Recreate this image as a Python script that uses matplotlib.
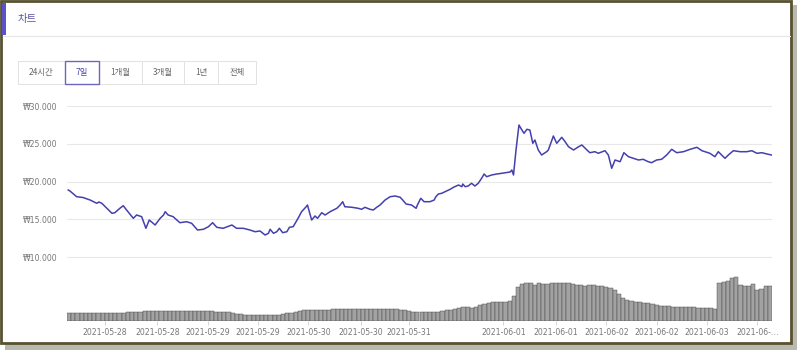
import matplotlib.pyplot as plt
from matplotlib.patches import Rectangle

# price line (hours since start, won)
hours = [0.3, 0.7, 2.3, 3.8, 5.5, 7.1, 7.6, 8.3, 9.5, 10.7, 11.4, 12.6, 13.4, 14.2, 15.8, 16.6,
         17.8, 18.8, 19.6, 21.0, 22.2, 23.0, 23.4, 24.1, 25.3, 26.9, 28.5, 29.7, 31.1, 32.5, 33.7,
         34.7, 35.7, 37.2, 39.3, 40.4, 42.0, 43.6, 44.8, 46.0, 47.2, 48.0, 48.4, 49.2, 50.0, 50.6,
         51.4, 52.4, 53.0, 53.9, 55.1, 55.9, 57.0, 57.3, 58.3, 59.1, 59.7, 60.7, 61.5, 62.7, 64.3,
         65.1, 65.7, 66.2, 67.9, 69.4, 70.2, 71.0, 72.2, 73.0, 73.8, 74.6, 75.8, 77.0, 78.2, 79.4,
         80.0, 80.8, 82.1, 83.2, 83.5, 84.3, 85.1, 86.5, 87.5, 87.9, 88.5, 89.3, 90.1, 91.3, 92.1,
         93.3, 94.1, 94.3, 94.9, 95.6, 96.4, 97.2, 98.0, 98.8, 99.4, 100.0, 101.2, 102.4, 103.6,
         105.6, 106.0, 106.4, 107.0, 107.7, 108.4, 108.9, 109.6, 110.3, 111.0, 111.5, 112.3, 113.1,
         114.3, 114.7, 115.9, 116.7, 117.9, 118.7, 119.5, 120.7, 121.8, 122.7, 123.9, 124.6, 125.8,
         126.6, 128.2, 129.0, 129.8, 130.6, 131.8, 132.7, 133.8, 135.0, 136.2, 137.3, 138.5, 139.3,
         140.5, 141.7, 142.9, 144.1, 145.3, 146.9, 148.5, 150.1, 151.3, 153.2, 154.4, 155.2, 156.8,
         157.6, 158.8, 160.4, 162.0, 163.2, 164.4, 165.6, 166.8, 167.9]
prices = [18896, 18764, 18010, 17905, 17574, 17138, 17310, 17138, 16477, 15816, 15895, 16477,
          16821, 16252, 15155, 15591, 15366, 13833, 14930, 14269, 15155, 15591, 16027, 15591,
          15366, 14573, 14705, 14494, 13608, 13701, 14044, 14573, 13965, 13833, 14269, 13833,
          13833, 13608, 13383, 13476, 12947, 13172, 13701, 13172, 13383, 13833, 13251, 13383,
          13965, 14044, 15195, 16027, 16688, 16913, 14930, 15459, 15155, 15895, 15591, 16027,
          16477, 16913, 17349, 16688, 16609, 16477, 16345, 16609, 16345, 16252, 16609, 16913,
          17574, 18010, 18103, 17931, 17574, 17045, 16913, 16477, 16913, 17799, 17349, 17349,
          17574, 18010, 18367, 18460, 18671, 18989, 19253, 19557, 19332, 19689, 19332, 19425,
          19782, 19425, 19782, 20443, 21011, 20654, 20879, 21011, 21104, 21276, 21540, 20879,
          24184, 27489, 26828, 26392, 26921, 26828, 25070, 25506, 24184, 23523, 23959, 24184,
          26035, 25070, 25863, 25281, 24620, 24184, 24581, 24845, 24184, 23827, 23959, 23748,
          24092, 23523, 21765, 22862, 22637, 23827, 23298, 23087, 22862, 22955, 22637, 22505,
          22862, 22955, 23523, 24277, 23827, 23959, 24277, 24541, 24092, 23748, 23298, 23959,
          23087, 23523, 24092, 23959, 23959, 24092, 23748, 23827, 23655, 23523]

# hourly volume (relative units)
volume = [8.5, 8.3, 8.5, 8.2, 8.4, 8.0, 8.3, 8.1,
          8.2, 7.9, 8.1, 8.0, 8.3, 8.2, 8.6,
          8.8, 9.2, 9.5, 9.8, 10.2, 10.4, 10.3, 10.1, 10.0,
          9.8, 9.7, 9.9, 10.0, 9.6, 9.8, 9.7, 10.1, 10.3, 10.0, 9.8, 9.5, 9.3, 9.0, 8.6,
          8.0, 7.2, 6.8, 6.5, 6.3, 6.2, 6.0,
          5.8, 5.9, 6.0, 6.2, 6.5, 7.0, 7.6, 8.2,
          9.0, 10.0, 10.6, 10.8, 11.0, 10.9, 11.0, 11.2, 11.5,
          11.8, 12.0, 12.2, 12.4, 12.5, 12.4, 12.3, 12.5, 12.2, 12.0, 11.8, 11.6, 11.9, 12.2, 12.4, 12.0, 11.5,
          11.0, 10.2, 9.5, 9.2, 9.0, 9.1, 9.3, 9.0, 9.4,
          10.0, 10.8, 11.5, 12.3, 13.0, 13.6, 13.8, 13.5, 13.9,
          16.0, 17.5, 18.5, 19.0, 19.2, 19.5, 19.3,
          20.0, 25.0,
          34.0, 37.5, 38.3, 38.0, 36.5, 37.8, 36.8, 37.2, 38.0, 38.4, 37.9, 38.5, 37.8, 37.0,
          36.2, 35.8, 35.5, 35.9, 35.6, 35.0, 34.6,
          34.0, 32.8, 31.5, 27.0, 23.0,
          21.0, 19.8, 19.5, 19.2, 18.5, 17.8, 16.8,
          16.0, 15.5, 15.0, 14.6, 14.3, 14.5, 14.2, 14.0, 13.8, 14.0, 13.5, 13.2, 13.0, 12.6,
          12.3, 38.5, 39.0, 40.5, 43.5, 44.0, 36.0, 35.5, 35.0, 37.5, 31.5, 31.8, 35.0, 35.2]

tick_hours = [9, 21.5, 33.5, 45.5, 57.5, 70, 81.5, 104, 116.5, 128.5, 140.5, 152.5, 164.5]
tick_labels = ['2021-05-28', '2021-05-28', '2021-05-29', '2021-05-29', '2021-05-30',
               '2021-05-30', '2021-05-31', '2021-06-01', '2021-06-01', '2021-06-02',
               '2021-06-02', '2021-06-03', '2021-06-…']
y_ticks = [10000, 15000, 20000, 25000, 30000]
y_labels = ['₩10.000', '₩15.000', '₩20.000', '₩25.000', '₩30.000']
buttons = ['24시간', '7일', '1개월', '3개월', '1년', '전체']
button_edges = [18, 65, 99, 142, 184, 218, 256]

kr = ['Noto Sans CJK KR', 'DejaVu Sans']
purple = '#4440ad'

fig = plt.figure(figsize=(8, 3.53), dpi=100)
fig.patch.set_facecolor('white')

# background / card drawn in pixel coordinates
bg = fig.add_axes([0, 0, 1, 1], zorder=0)
bg.set_xlim(0, 800)
bg.set_ylim(353, 0)
bg.axis('off')
bg.add_patch(Rectangle((5, 5), 792, 345, facecolor='#b9b9b0', edgecolor='none'))
bg.add_patch(Rectangle((1, 1), 790, 342, facecolor='white', edgecolor='#57522f', linewidth=2))
bg.add_patch(Rectangle((2, 3), 3.5, 32, facecolor='#5b52c8', edgecolor='none'))
bg.plot([3, 790], [36, 36], color='#e6e6e6', linewidth=0.8)
bg.text(18, 19, '차트', family=kr, fontsize=7.5, color='#5854a8', va='center', ha='left')

for i, name in enumerate(buttons):
    x0, x1 = button_edges[i], button_edges[i + 1]
    sel = name == '7일'
    bg.add_patch(Rectangle((x0, 61), x1 - x0, 23, facecolor='white',
                           edgecolor='#6b66c0' if sel else '#e2e2e2',
                           linewidth=1.0 if sel else 0.7, zorder=3 if sel else 2))
    bg.text((x0 + x1) / 2, 72.5, name, family=kr, fontsize=6,
            color='#4a46a8' if sel else '#666666', ha='center', va='center', zorder=4)

rect = [67 / 800, 32 / 353, 705 / 800, 226 / 353]

# volume bars
ax_vol = fig.add_axes(rect, zorder=1)
ax_vol.patch.set_alpha(0)
ax_vol.bar([i + 0.5 for i in range(len(volume))], volume, width=1.0,
           color='#a2a2a2', edgecolor='#3f3f3f', linewidth=0.3)
ax_vol.set_xlim(0, 168)
ax_vol.set_ylim(0, 226)
ax_vol.set_yticks([])
ax_vol.set_xticks(tick_hours)
ax_vol.set_xticklabels(tick_labels, fontsize=5.6, color='#777777')
ax_vol.tick_params(axis='x', length=3, width=0.6, color='#cccccc', pad=2)
for s in ax_vol.spines.values():
    s.set_visible(False)

# price line
ax = fig.add_axes(rect, zorder=2)
ax.patch.set_alpha(0)
ax.plot(hours, prices, color=purple, linewidth=1.1)
ax.set_xlim(0, 168)
ax.set_ylim(1578, 31455)
ax.set_xticks([])
ax.set_yticks(y_ticks)
ax.set_yticklabels(y_labels, fontsize=5.6, color='#777777')
ax.tick_params(axis='y', length=0, pad=7)
ax.grid(axis='y', color='#e8e8e8', linewidth=0.8)
for s in ax.spines.values():
    s.set_visible(False)

fig.savefig('out.png', dpi=100)
